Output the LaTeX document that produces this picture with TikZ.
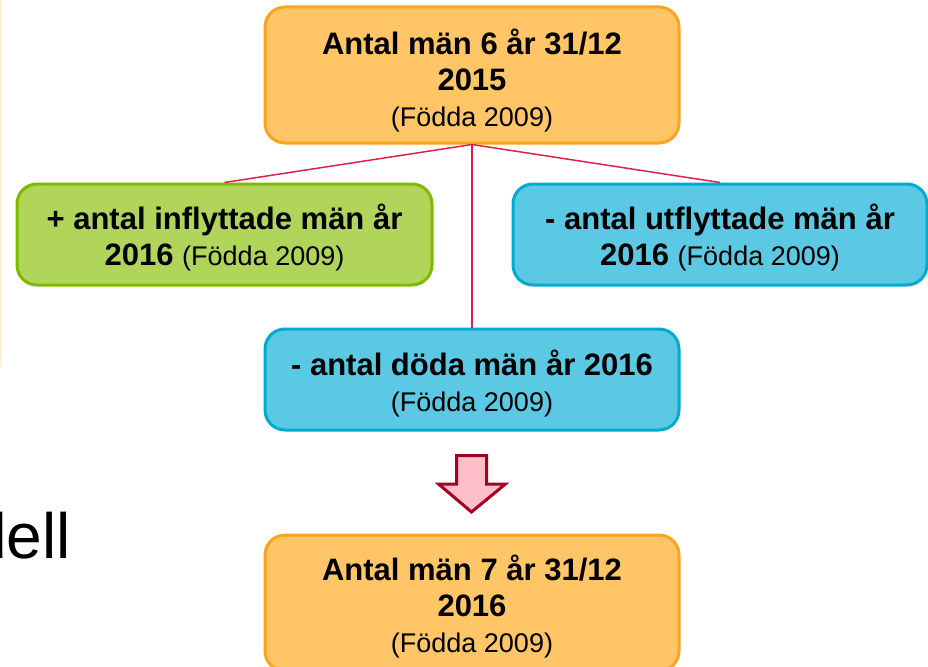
\documentclass[tikz,border=0pt]{standalone}
\usepackage{fontspec}
\setmainfont{Liberation Sans}
\definecolor{orfill}{HTML}{FFC566}
\definecolor{ordraw}{HTML}{FBA41E}
\definecolor{grfill}{HTML}{B1D45A}
\definecolor{grdraw}{HTML}{7FBA00}
\definecolor{blfill}{HTML}{5BC9E3}
\definecolor{bldraw}{HTML}{00ABD0}
\definecolor{linkred}{HTML}{DC1E4B}
\definecolor{arrfill}{HTML}{FFBFC8}
\definecolor{arrdraw}{HTML}{A50021}
\definecolor{creamline}{HTML}{FFF0D4}
\newcommand{\bx}{\fontsize{23.25}{27}\selectfont\bfseries}
\newcommand{\rg}{\fontsize{20.25}{27}\selectfont\mdseries}
\newcommand{\upstrut}[1]{\rule{0pt}{#1}}
\begin{document}
\begin{tikzpicture}[x=0.75pt,y=-0.75pt,
  box/.style={draw, line width=2.25pt, rounded corners=15pt, inner sep=0pt,
    align=center, text=black, minimum width=310.5pt, font=\bx},
  tall/.style={minimum height=102pt},
  short/.style={minimum height=75.75pt},
  orbox/.style={box, fill=orfill, draw=ordraw},
  grbox/.style={box, fill=grfill, draw=grdraw},
  blbox/.style={box, fill=blfill, draw=bldraw},
  link/.style={draw=linkred, line width=1.1pt}]
\useasboundingbox (0,0) rectangle (928,667);
\clip (0,0) rectangle (928,667);
\fill[white] (0,0) rectangle (928,667);
\draw[creamline, line width=1.5pt] (1,0) -- (1,367);
\node[orbox, tall] (top) at (472,75) {\upstrut{27pt}Antal män 6 år 31/12\\2015\\{\rg (Födda 2009)}};
\node[grbox, short, minimum width=311.25pt] (left) at (224.5,234.5) {\upstrut{23pt}+ antal inflyttade män år\\2016 {\rg (Födda 2009)}};
\node[blbox, short] (right) at (720,234.5) {\upstrut{23pt}- antal utflyttade män år\\2016 {\rg (Födda 2009)}};
\node[blbox, short] (mid) at (472,379.5) {\upstrut{25pt}- antal döda män år 2016\\{\rg (Födda 2009)}};
\node[orbox, tall] (bot) at (472,603) {\upstrut{25pt}Antal män 7 år 31/12\\2016\\{\rg (Födda 2009)}};
\draw[link] (top.south) -- (left.north);
\draw[link] (top.south) -- (right.north);
\draw[link] (top.south) -- (mid.north);
\draw[fill=arrfill, draw=arrdraw, line width=2.25pt, line join=miter]
  (456.5,455.5) -- (486.5,455.5) -- (486.5,484) -- (505.5,484) -- (471.5,512)
  -- (438.5,484) -- (456.5,484) -- cycle;
\node[anchor=base east, inner sep=0pt, font=\fontsize{48}{50}\selectfont] (dell) at (71,558) {dell};
\end{tikzpicture}
\end{document}
